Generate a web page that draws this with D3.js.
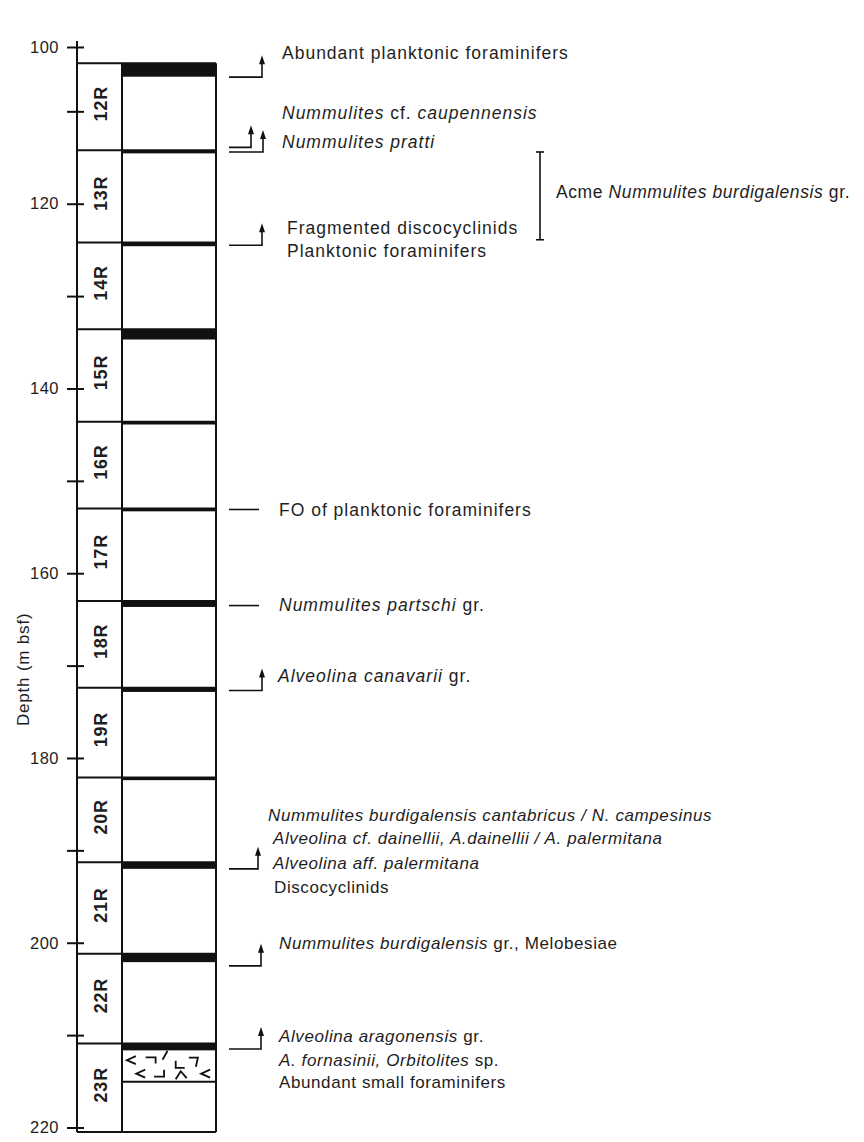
<!DOCTYPE html>
<html>
<head>
<meta charset="utf-8">
<script src="https://cdn.jsdelivr.net/npm/d3@7"></script>
<style>
  html, body { margin: 0; padding: 0; background: #fff; }
  svg { display: block; }
  text { font-family: "Liberation Sans", Arial, Helvetica, sans-serif; fill: #1e1e1e; }
</style>
</head>
<body>
<svg id="chart" width="864" height="1142"></svg>
<script>
// ---------------- DATA ----------------
const depthTicks = [100, 110, 120, 130, 140, 150, 160, 170, 180, 190, 200, 210, 220];
const tickLabels = ["100", "", "120", "", "140", "", "160", "", "180", "", "200", "", "220"];

const coreNames = ["12R", "13R", "14R", "15R", "16R", "17R", "18R", "19R", "20R", "21R", "22R", "23R"];
const coreTops  = [104.8, 114.2, 124.2, 133.6, 143.6, 153.0, 163.0, 172.4, 182.1, 191.3, 201.2, 210.9];
const holeBottom = 220.5;
// thickness (m) of the black interval at the top of each core
const blackThickness = [1.45, 0.35, 0.4, 1.1, 0.3, 0.3, 0.65, 0.45, 0.3, 0.7, 0.9, 0.75];
// volcanic-textured interval in core 23R (top, base, m)
const volcanicInterval = [211.65, 215.05];

// biostratigraphic events: depth and marker kind
const eventDepths = [106.3, 113.9, 114.4, 124.5, 153.1, 163.5, 172.7, 192.0, 202.5, 211.5];
const eventKinds  = ["arrow", "arrow", "arrow", "arrow", "dash", "dash", "arrow", "arrow", "arrow", "arrow"];

// acme bracket (m)
const acmeRange = [114.4, 123.9];

// annotation lines: segments [text, italic?] and depth of line centre
const labelSegments = [
  [["Abundant planktonic foraminifers", 0]],
  [["Nummulites", 1], [" cf. ", 0], ["caupennensis", 1]],
  [["Nummulites pratti", 1]],
  [["Fragmented discocyclinids", 0]],
  [["Planktonic foraminifers", 0]],
  [["Acme ", 0], ["Nummulites burdigalensis", 1], [" gr.", 0]],
  [["FO of planktonic foraminifers", 0]],
  [["Nummulites partschi", 1], [" gr.", 0]],
  [["Alveolina canavarii", 1], [" gr.", 0]],
  [["Nummulites burdigalensis cantabricus / N. campesinus", 1]],
  [["Alveolina cf. dainellii, A.dainellii / A. palermitana", 1]],
  [["Alveolina aff. palermitana", 1]],
  [["Discocyclinids", 0]],
  [["Nummulites burdigalensis", 1], [" gr., Melobesiae", 0]],
  [["Alveolina aragonensis", 1], [" gr.", 0]],
  [["A. fornasinii, Orbitolites", 1], [" sp.", 0]],
  [["Abundant small foraminifers", 0]]
];
const labelDepths = [101.8, 110.2, 113.3, 122.6, 125.1, 118.7, 153.15, 163.4, 171.1,
                     186.2, 188.7, 191.4, 194.0, 200.0, 210.15, 212.7, 215.05];

// ---------------- LAYOUT ----------------
const axisX = 77, dividerX = 122, rightX = 216;
const markerX0 = 229;
const arrowX = [262, 251, 263, 262, null, null, 262, 258, 261, 261];
const dashX1 = 259;
const labelX = [282, 282, 282, 287, 287, 556, 279, 279, 278, 268, 273, 273, 274, 279, 279, 279, 279];
const labelStyle = i => i === 5 ? { size: 17.5, ls: 0.6 }
                      : i < 9 ? { size: 17.5, ls: 1.0 } : { size: 17, ls: 0.6 };
const bracketX = 540;

// polylinear depth scale (top of axis compressed as in the original figure)
const y = d3.scaleLinear().domain([100, 104.8, 220]).range([47, 63.3, 1127.5]);

const svg = d3.select("#chart");
svg.append("rect").attr("width", 864).attr("height", 1142).attr("fill", "#fff");

// ---------------- AXIS ----------------
svg.append("line")
  .attr("x1", axisX).attr("x2", axisX)
  .attr("y1", y(100) - 6).attr("y2", y(holeBottom))
  .attr("stroke", "#111").attr("stroke-width", 2);

const axL = svg.append("g").attr("transform", `translate(${axisX},0)`)
  .call(d3.axisLeft(y).tickValues(depthTicks).tickSize(10).tickPadding(8)
    .tickFormat((d, i) => tickLabels[i]));
const axR = svg.append("g").attr("transform", `translate(${axisX},0)`)
  .call(d3.axisRight(y).tickValues(depthTicks).tickSize(7).tickFormat(() => ""));
[axL, axR].forEach(g => {
  g.select(".domain").remove();
  g.selectAll(".tick line").attr("stroke", "#111").attr("stroke-width", 2);
});
axL.selectAll(".tick text")
  .attr("font-size", 16.5).attr("fill", "#1e1e1e")
  .attr("font-family", "'Liberation Sans', Arial, sans-serif")
  .style("letter-spacing", "0.5px");

svg.append("text")
  .attr("transform", `translate(23, ${y(170.4)}) rotate(-90)`)
  .attr("text-anchor", "middle").attr("dy", "0.35em")
  .attr("font-size", 17).style("letter-spacing", "0.8px")
  .text("Depth (m bsf)");

// ---------------- CORE COLUMN ----------------
const coreBottoms = coreTops.map((t, i) => i < coreTops.length - 1 ? coreTops[i + 1] : holeBottom);
const col = svg.append("g");

// black intervals
col.selectAll("rect.black").data(coreTops).join("rect")
  .attr("class", "black")
  .attr("x", dividerX).attr("width", rightX - dividerX)
  .attr("y", d => y(d))
  .attr("height", (d, i) => y(d + blackThickness[i]) - y(d))
  .attr("fill", "#111");

// volcanic texture
const vTop = y(volcanicInterval[0]), vBot = y(volcanicInterval[1]);
const vw = rightX - dividerX, vh = vBot - vTop;
const glyphs = [
  [0.03, 0.12, "M9,0L0,4L9,8"],
  [0.23, 0.16, "M0,0L10,0L10,6"],
  [0.41, -0.05, "M5,0L0,9"],
  [0.55, 0.27, "M0,0L0,7L9,7"],
  [0.69, 0.17, "M0,0L9,0L7,9"],
  [0.82, 0.55, "M9,0L0,4L9,8"],
  [0.13, 0.55, "M9,0L0,4L9,8"],
  [0.32, 0.55, "M0,7L10,7L10,0"],
  [0.55, 0.6, "M0,8L5,0L11,7"]
];
col.selectAll("path.glyph").data(glyphs).join("path")
  .attr("class", "glyph")
  .attr("transform", d => `translate(${dividerX + d[0] * vw + 2},${vTop + d[1] * vh + 2})`)
  .attr("d", d => d[2])
  .attr("fill", "none").attr("stroke", "#111").attr("stroke-width", 1.8);
col.append("line")
  .attr("x1", dividerX).attr("x2", rightX)
  .attr("y1", vBot).attr("y2", vBot)
  .attr("stroke", "#111").attr("stroke-width", 1.8);

// core cells
col.selectAll("line.bound").data(coreTops.concat([holeBottom])).join("line")
  .attr("class", "bound")
  .attr("x1", axisX).attr("x2", rightX)
  .attr("y1", d => y(d)).attr("y2", d => y(d))
  .attr("stroke", "#111").attr("stroke-width", 2);
col.append("line")
  .attr("x1", dividerX).attr("x2", dividerX)
  .attr("y1", y(coreTops[0])).attr("y2", y(holeBottom))
  .attr("stroke", "#111").attr("stroke-width", 2);
col.append("line")
  .attr("x1", rightX).attr("x2", rightX)
  .attr("y1", y(coreTops[0])).attr("y2", y(holeBottom))
  .attr("stroke", "#111").attr("stroke-width", 2);

col.selectAll("text.core").data(coreNames).join("text")
  .attr("class", "core")
  .attr("transform", (d, i) => `translate(${(axisX + dividerX) / 2 + 1},${(y(coreTops[i]) + y(coreBottoms[i])) / 2 - 3}) rotate(-90)`)
  .attr("text-anchor", "middle").attr("dy", "0.36em")
  .attr("font-size", 18).attr("font-weight", "bold")
  .style("letter-spacing", "0.8px")
  .text(d => d);

// ---------------- EVENT MARKERS ----------------
const ev = svg.append("g").attr("stroke", "#111").attr("stroke-width", 1.6).attr("fill", "none");
eventDepths.forEach((d, i) => {
  const yy = y(d);
  if (eventKinds[i] === "dash") {
    ev.append("line").attr("x1", markerX0).attr("x2", dashX1).attr("y1", yy).attr("y2", yy);
  } else {
    const ax = arrowX[i];
    ev.append("path").attr("d", `M${markerX0},${yy}H${ax}V${y(d) - 14}`);
    ev.append("path")
      .attr("d", `M${ax},${yy - 22}L${ax - 3},${yy - 13}L${ax + 3},${yy - 13}Z`)
      .attr("fill", "#111").attr("stroke", "none");
  }
});

// acme bracket
const br = svg.append("g").attr("stroke", "#111").attr("stroke-width", 1.6);
br.append("line").attr("x1", bracketX).attr("x2", bracketX).attr("y1", y(acmeRange[0])).attr("y2", y(acmeRange[1]));
acmeRange.forEach(d => br.append("line").attr("x1", bracketX - 4).attr("x2", bracketX + 4).attr("y1", y(d)).attr("y2", y(d)));

// ---------------- LABELS ----------------
const lab = svg.append("g");
labelSegments.forEach((segs, i) => {
  const st = labelStyle(i);
  const t = lab.append("text")
    .attr("x", labelX[i]).attr("y", y(labelDepths[i]))
    .attr("dy", "0.35em").attr("font-size", st.size)
    .style("letter-spacing", st.ls + "px");
  segs.forEach(s => {
    t.append("tspan").attr("font-style", s[1] ? "italic" : "normal")
      .style("white-space", "pre").text(s[0]);
  });
});
</script>
</body>
</html>
